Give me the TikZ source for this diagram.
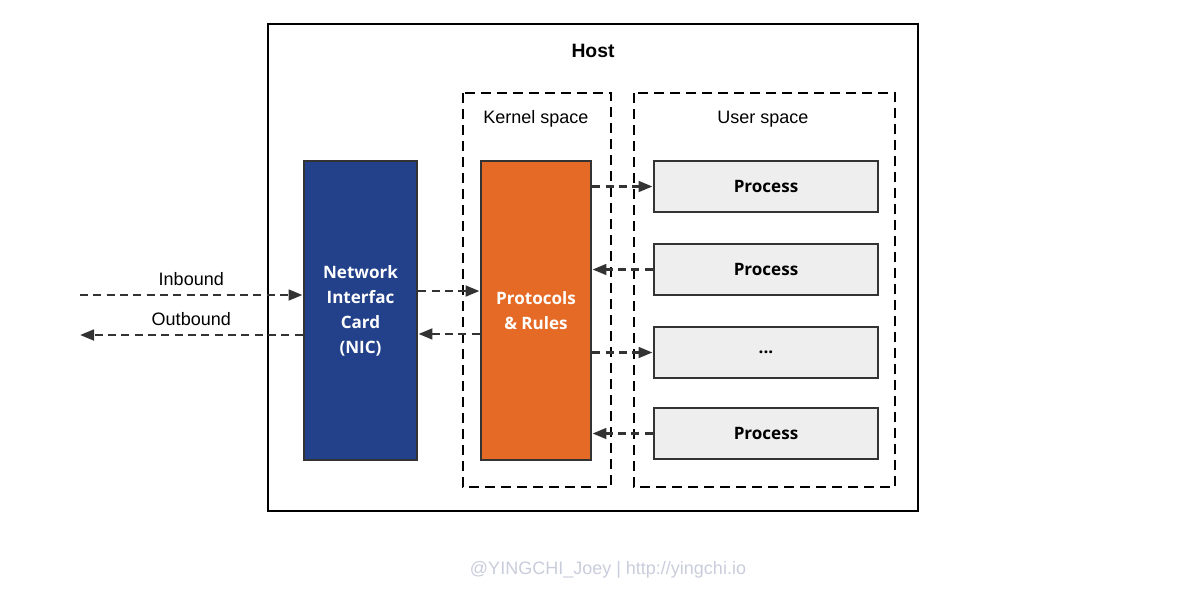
\documentclass[tikz,border=0pt]{standalone}
\usepackage{fontspec}
\setmainfont{Liberation Sans}
\newfontfamily\boxfont{Open Sans}
\usepackage{xcolor}
\usetikzlibrary{arrows.meta, positioning}

\definecolor{nicblue}{HTML}{23418A}
\definecolor{protoorange}{HTML}{E56A25}
\definecolor{procgray}{HTML}{EEEEEE}
\definecolor{edgegray}{HTML}{333333}
\definecolor{markgray}{HTML}{C9CDDB}

\tikzset{
  block/.style={draw=edgegray, line width=2.2pt, inner sep=0pt, align=center,
    font=\boxfont\bfseries\fontsize{12.8}{18.75}\selectfont},
  nicbox/.style={block, fill=nicblue, text=white,
    minimum width=84.75pt, minimum height=224.25pt},
  protobox/.style={block, fill=protoorange, text=white,
    minimum width=82.5pt, minimum height=224.25pt},
  procbox/.style={block, fill=procgray, text=black,
    minimum width=168pt, minimum height=38.25pt},
  space/.style={draw=black, line width=2.1pt, dash pattern=on 7.5pt off 4.5pt},
  flow/.style={->, draw=edgegray, line width=2pt, dash pattern=on 6pt off 4pt},
  label/.style={font=\fontsize{13.5}{16}\selectfont}
}

\begin{document}
\begin{tikzpicture}[x=0.75pt, y=-0.75pt, >={Triangle[length=10.5pt,width=8pt]}]
\useasboundingbox (0,0) rectangle (1195,604);

% Host
\draw[line width=2pt] (268,24) rectangle (918,511);
\node[font=\bfseries\fontsize{14.5}{17}\selectfont] (host) at (593,51) {Host};

% Kernel space / User space
\draw[space] (463,93) rectangle (611,487);
\node[label] (kernel) at (536,119) {Kernel space};
\draw[space] (634,93) rectangle (895,487);
\node[label] (user) at (763,119) {User space};

% Boxes
\node[nicbox] (nic) at (360.5,310.5) {Network\\Interfac\\Card\\(NIC)};
\node[protobox] (proto) at (536,310.5) {Protocols\\\& Rules};

\node[procbox] (p1) at (766,186.5) {Process};
\node[procbox] (p2) at (766,269.5) {Process};
\node[procbox] (p3) at (766,352.5) {...};
\node[procbox] (p4) at (766,433.5) {Process};

% Inbound / Outbound
\coordinate (inend) at (80,295);
\coordinate (outend) at (80,335);
\draw[flow] (inend) -- (nic.west |- inend)
    node[label, pos=0.5, above=3pt] {Inbound};
\draw[flow] (nic.west |- outend) -- (outend)
    node[label, pos=0.5, above=3pt] {Outbound};

% NIC <-> Protocols
\draw[flow] ([yshift=14.6pt]nic.east) -- ([yshift=14.6pt]proto.west);
\draw[flow] ([yshift=-17.6pt]proto.west) -- ([yshift=-17.6pt]nic.east);

% Protocols <-> Processes
\draw[flow] (proto.east |- p1.west) -- (p1.west);
\draw[flow] (p2.west) -- (proto.east |- p2.west);
\draw[flow] (proto.east |- p3.west) -- (p3.west);
\draw[flow] (p4.west) -- (proto.east |- p4.west);

% Wasserzeichen
\node[text=markgray, font=\fontsize{13.5}{16}\selectfont] (mark) at (608,570)
    {@YINGCHI\_Joey | http://yingchi.io};
\end{tikzpicture}
\end{document}
